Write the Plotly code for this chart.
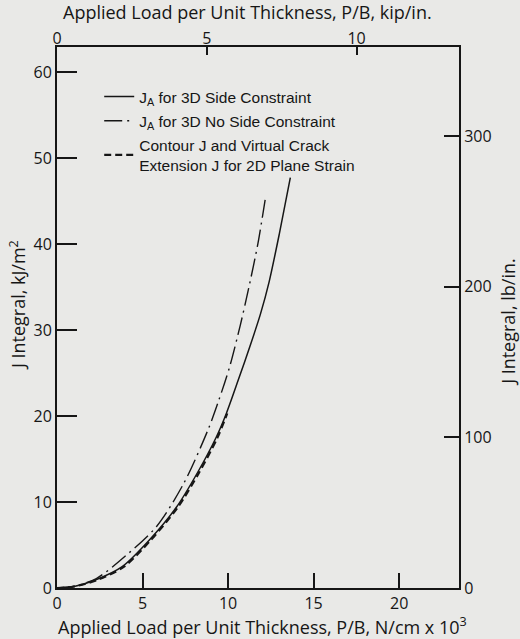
import plotly.graph_objects as go

# Applied load P/B (N/cm x 10^3) and J integral (kJ/m^2)
side_x = [0.0, 1.0, 2.24, 3.81, 5.40, 7.00, 8.21, 9.30, 9.90, 10.60, 11.28, 11.90, 12.40, 13.00, 13.64]
side_j = [0.0, 0.18, 0.93, 2.48, 5.58, 9.45, 13.4, 17.5, 20.3, 24.2, 28.1, 31.9, 35.6, 41.2, 47.7]

noside_x = [0.0, 1.0, 2.3, 3.62, 5.81, 7.42, 8.85, 9.47, 10.09, 10.72, 11.20, 11.75, 12.18]
noside_j = [0.0, 0.2, 1.1, 3.08, 7.13, 12.2, 18.5, 21.9, 25.7, 30.6, 34.8, 40.1, 45.3]

plane_x = [0.0, 1.0, 2.3, 3.9, 5.45, 7.05, 8.27, 9.36, 9.95]
plane_j = [0.0, 0.17, 0.9, 2.45, 5.5, 9.35, 13.3, 17.4, 20.3]

x_ticks = [0, 5, 10, 15, 20]
kip_ticks = [0, 5, 10]
j_ticks = [0, 10, 20, 30, 40, 50, 60]
lb_ticks = [0, 100, 200, 300]

X_MAX = 23.5
J_MAX = 62.9
KIP_PER_NCM3 = 1.7513   # 1 kip/in = 1.7513 x 10^3 N/cm
KJ_PER_LB = 0.17513     # 1 lb/in = 0.17513 kJ/m^2

FONT = "Open Sans"
BG = "#e9e9e7"
INK = "#161616"

fig = go.Figure()
fig.add_trace(go.Scatter(
    x=side_x, y=side_j, mode="lines", line=dict(color=INK, width=1.5, shape="spline", smoothing=0.8),
    name="J<sub>A</sub> for 3D Side Constraint", legendgroup="a"))
fig.add_trace(go.Scatter(
    x=noside_x, y=noside_j, mode="lines",
    line=dict(color=INK, width=1.4, shape="spline", smoothing=0.8, dash="18px,5px,2px,5px"),
    name="J<sub>A</sub> for 3D No Side Constraint", legendgroup="b"))
fig.add_trace(go.Scatter(
    x=plane_x, y=plane_j, mode="lines",
    line=dict(color=INK, width=2.2, shape="spline", smoothing=0.8, dash="7px,4px"),
    name="Contour J and Virtual Crack<br>Extension J for 2D Plane Strain", legendgroup="c"))
# invisible trace to activate secondary axes
fig.add_trace(go.Scatter(x=[0], y=[0], xaxis="x2", yaxis="y2", mode="markers",
                         marker=dict(opacity=0), showlegend=False, hoverinfo="skip"))

axis_common = dict(showline=True, linecolor=INK, linewidth=2, showgrid=False, zeroline=False,
                   ticks="inside", tickcolor=INK, tickwidth=1.5, automargin=False,
                   tickfont=dict(family=FONT, size=16, color=INK))

title_font = dict(family=FONT, size=18, color=INK)

fig.update_layout(
    width=520, height=639,
    margin=dict(l=57, r=61, t=47, b=51),
    paper_bgcolor=BG, plot_bgcolor=BG,
    font=dict(family=FONT, color=INK),
    showlegend=True,
    legend=dict(x=0.105, y=0.939, xanchor="left", yanchor="top", bgcolor="rgba(0,0,0,0)",
                font=dict(family="Liberation Sans", size=15.5, color=INK),
                tracegroupgap=1),
    xaxis=dict(range=[0, X_MAX], tickvals=x_ticks, ticklen=15, **axis_common),
    xaxis2=dict(range=[0, X_MAX / KIP_PER_NCM3], tickvals=kip_ticks, ticklen=8,
                overlaying="x", side="top", anchor="y", ticklabelstandoff=-5, **axis_common),
    yaxis=dict(range=[0, J_MAX], tickvals=j_ticks, ticklen=20, **axis_common),
    yaxis2=dict(range=[0, J_MAX / KJ_PER_LB], tickvals=lb_ticks, ticklen=15,
                overlaying="y", side="right", anchor="x", **axis_common),
    annotations=[
        dict(text="Applied Load per Unit Thickness, P/B, kip/in.", xref="paper", yref="paper",
             x=0.475, y=1.065, xanchor="center", yanchor="middle", showarrow=False, font=title_font),
        dict(text="Applied Load per Unit Thickness, P/B, N/cm x 10<sup>3</sup>", xref="paper",
             yref="paper", x=0.51, y=-0.070, xanchor="center", yanchor="middle",
             showarrow=False, font=title_font),
        dict(text="J Integral, kJ/m<sup>2</sup>", xref="paper", yref="paper",
             x=-0.097, y=0.523, xanchor="center", yanchor="middle", showarrow=False,
             textangle=-90, font=title_font),
        dict(text="J Integral, lb/in.", xref="paper", yref="paper",
             x=1.122, y=0.492, xanchor="center", yanchor="middle", showarrow=False,
             textangle=-90, font=title_font),
    ],
)

fig.write_html(
    "out.html",
    config={"displayModeBar": False},
    post_script="document.body.style.margin='0';document.body.style.background='#e9e9e7';"
                "document.body.style.overflow='hidden';",
)
